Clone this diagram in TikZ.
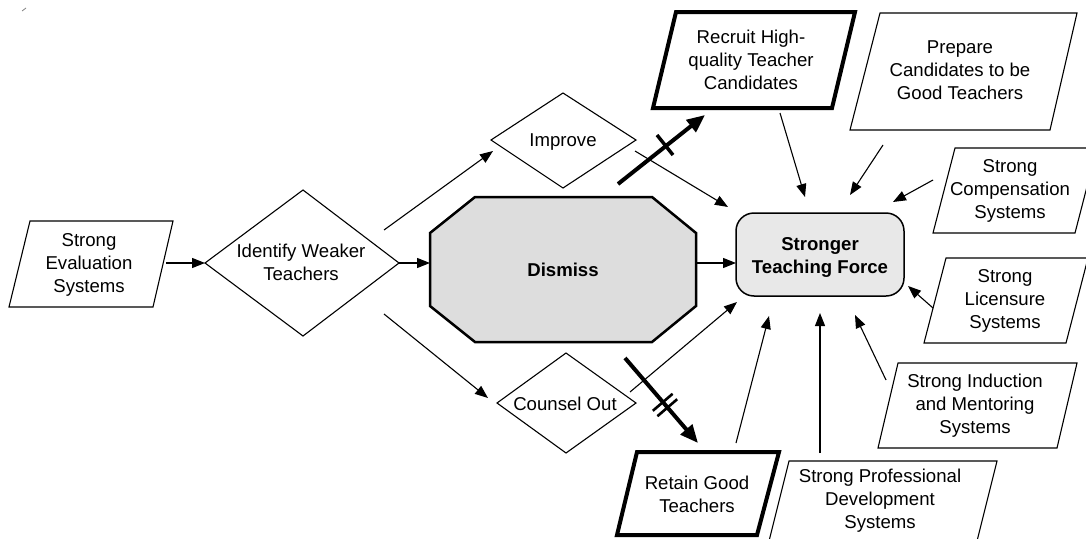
\documentclass[tikz,border=0pt]{standalone}
\usepackage{fontspec}
\setmainfont{Liberation Sans}
\usetikzlibrary{arrows.meta}
\definecolor{octfill}{RGB}{221,221,221}
\definecolor{boxfill}{RGB}{232,232,232}
\begin{document}
\begin{tikzpicture}[x=1pt,y=-1pt,
  txt/.style={align=center,font=\fontsize{18.6}{23}\selectfont,inner sep=0pt},
  btxt/.style={txt,font=\fontsize{18.6}{23}\selectfont\bfseries},
  thinbox/.style={draw=black,line width=1.1pt,line join=miter},
  thickbox/.style={draw=black,line width=4pt,line join=miter},
  conn/.style={line width=1.1pt,-{Triangle[length=13pt,width=10pt]}},
  bigconn/.style={line width=4pt,-{Triangle[length=18pt,width=15pt]}},
  tickmark/.style={line width=3.5pt},
  dtick/.style={line width=2.6pt}]
\useasboundingbox (0,0) rectangle (1086,538);
\clip (0,0) rectangle (1086,538);
\draw[gray,line width=0.8pt] (22,11) -- (26,8);

% ---------- shapes ----------
% Strong Evaluation Systems
\draw[thinbox] (30,221) -- (173,221) -- (153,307) -- (9,307) -- cycle;
\node[txt] (eval) at (89,265) {Strong\\Evaluation\\Systems};
% Identify Weaker Teachers
\draw[thinbox] (205,263) -- (303,190) -- (399,263) -- (303,336) -- cycle;
\node[txt] (iden) at (301,262) {Identify Weaker\\Teachers};
% Improve
\draw[thinbox] (491,140) -- (563,93) -- (636,140) -- (563,188) -- cycle;
\node[txt] (impr) at (563,142) {Improve};
% Counsel Out
\draw[thinbox] (497,403) -- (566,353) -- (636,403) -- (566,453) -- cycle;
\node[txt] (coun) at (565,403.5) {Counsel Out};
% Dismiss
\draw[line width=2.5pt,fill=octfill,line join=miter] (475,197) -- (652,197) -- (696,233) -- (696,306) -- (652,342) -- (475,342) -- (430,306) -- (430,233) -- cycle;
\node[btxt] (dism) at (563,270) {Dismiss};
% Stronger Teaching Force
\node[draw=black,line width=1.5pt,fill=boxfill,rounded corners=18pt,minimum width=168pt,minimum height=83pt] (stfbox) at (820,254.5) {};
\node[btxt] (stf) at (820,257) {Stronger\\Teaching Force};
% Recruit
\draw[thickbox] (676,12) -- (855,12) -- (832,108) -- (653,108) -- cycle;
\node[txt] (recr) at (751,60) {Recruit High-\\quality Teacher\\Candidates};
% Prepare
\draw[thinbox] (880,13) -- (1077,13) -- (1050,130) -- (850,130) -- cycle;
\node[txt] (prep) at (960,70) {Prepare\\Candidates to be\\Good Teachers};
% Compensation
\draw[thinbox] (955,148) -- (1097,148) -- (1075,233) -- (933,233) -- cycle;
\node[txt] (comp) at (1010,191.3) {Strong\\Compensation\\Systems};
% Licensure
\draw[thinbox] (946,258) -- (1088,258) -- (1066,343) -- (924,343) -- cycle;
\node[txt] (lice) at (1005,301) {Strong\\Licensure\\Systems};
% Induction
\draw[thinbox] (898,363) -- (1077,363) -- (1057,448) -- (878,448) -- cycle;
\node[txt] (indu) at (975,405.5) {Strong Induction\\and Mentoring\\Systems};
% Professional Development
\draw[thinbox] (789,461) -- (997,461) -- (976,545) -- (768,545) -- cycle;
\node[txt] (prof) at (880,501) {Strong Professional\\Development\\Systems};
% Retain
\draw[thickbox] (637,452) -- (779,452) -- (757,535) -- (617,535) -- cycle;
\node[txt] (reta) at (697,494.8) {Retain Good\\Teachers};

% ---------- connector end points ----------
\coordinate (evalR) at (166,263);  \coordinate (idenL) at (205,263);
\coordinate (idenR) at (399,263);  \coordinate (dismL) at (430,263);
\coordinate (dismR) at (697,263);  \coordinate (stfL) at (736,263);
\coordinate (idenUR) at (384,230); \coordinate (imprL) at (493,151);
\coordinate (idenLR) at (384,314); \coordinate (counL) at (488,398);
\coordinate (imprR) at (635,151);  \coordinate (stfUL) at (728,207);
\coordinate (counR) at (630,392);  \coordinate (stfLL) at (737,302);
\coordinate (recrS) at (618,184);  \coordinate (recrIn) at (705,115);
\coordinate (retaS) at (625,358);  \coordinate (retaIn) at (698,443);
\coordinate (recrB) at (780,113);  \coordinate (stfT1) at (805,197);
\coordinate (prepB) at (883,145);  \coordinate (stfT2) at (850,195);
\coordinate (compL) at (933,180);  \coordinate (stfTR) at (893,202);
\coordinate (liceL) at (933,308);  \coordinate (stfR) at (908,286);
\coordinate (induL) at (886,380);  \coordinate (stfBR) at (855,315);
\coordinate (profT) at (820,453);  \coordinate (stfB) at (820,313);
\coordinate (retaT) at (736,443);  \coordinate (stfBL) at (769,316);

% ---------- connectors ----------
\draw[conn] (evalR) -- (idenL);
\draw[conn] (idenR) -- (dismL);
\draw[conn] (dismR) -- (stfL);
\draw[conn] (idenUR) -- (imprL);
\draw[conn] (idenLR) -- (counL);
\draw[conn] (imprR) -- (stfUL);
\draw[conn] (counR) -- (stfLL);
\draw[conn] (recrB) -- (stfT1);
\draw[conn] (prepB) -- (stfT2);
\draw[conn] (compL) -- (stfTR);
\draw[conn] (liceL) -- (stfR);
\draw[conn] (induL) -- (stfBR);
\draw[conn] (profT) -- (stfB);
\draw[conn] (retaT) -- (stfBL);
\draw[bigconn] (recrS) -- (recrIn);
\draw[bigconn] (retaS) -- (retaIn);
% blocking marks
\draw[tickmark] (657,135) -- (673,155);
\draw[dtick] (652.8,410.8) -- (672.6,393.8);
\draw[dtick] (657.4,416.2) -- (677.2,399.2);
\end{tikzpicture}
\end{document}
